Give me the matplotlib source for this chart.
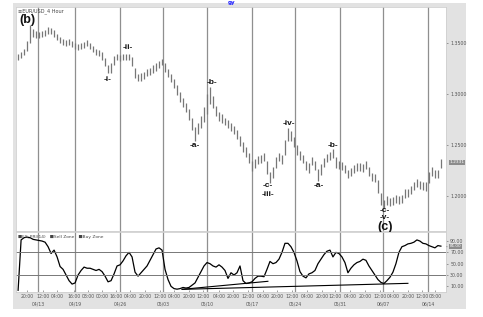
import matplotlib
matplotlib.use("Agg")
import matplotlib.pyplot as plt
import numpy as np
from matplotlib.patches import Rectangle

# EUR/USD 4 hour bars (high / low)
highs = [1.339, 1.341, 1.344, 1.352, 1.368, 1.364, 1.362, 1.361, 1.362, 1.363,
         1.366, 1.365, 1.363, 1.359, 1.356, 1.354, 1.353, 1.354, 1.352, 1.350,
         1.349, 1.350, 1.351, 1.353, 1.350, 1.347, 1.344, 1.343, 1.341, 1.335,
         1.328, 1.330, 1.337, 1.339, 1.338, 1.339, 1.339, 1.339, 1.336, 1.326,
         1.320, 1.321, 1.322, 1.325, 1.326, 1.328, 1.330, 1.332, 1.334, 1.330,
         1.325, 1.320, 1.315, 1.309, 1.302, 1.296, 1.291, 1.285, 1.277, 1.268,
         1.272, 1.278, 1.287, 1.300, 1.307, 1.298, 1.288, 1.282, 1.280, 1.277,
         1.275, 1.272, 1.269, 1.265, 1.259, 1.253, 1.248, 1.242, 1.234, 1.236,
         1.239, 1.240, 1.242, 1.234, 1.224, 1.229, 1.238, 1.242, 1.240, 1.255,
         1.267, 1.264, 1.258, 1.250, 1.244, 1.240, 1.234, 1.232, 1.238, 1.234,
         1.227, 1.231, 1.237, 1.241, 1.243, 1.246, 1.238, 1.234, 1.233, 1.230,
         1.226, 1.228, 1.230, 1.232, 1.232, 1.231, 1.234, 1.229, 1.223, 1.222,
         1.216, 1.203, 1.196, 1.200, 1.198, 1.199, 1.201, 1.200, 1.201, 1.207,
         1.207, 1.210, 1.214, 1.217, 1.215, 1.214, 1.214, 1.224, 1.229, 1.226,
         1.226, 1.236]
lows = [1.333, 1.335, 1.338, 1.342, 1.350, 1.356, 1.355, 1.355, 1.356, 1.357,
        1.359, 1.359, 1.356, 1.353, 1.350, 1.348, 1.347, 1.348, 1.346, 1.344,
        1.343, 1.344, 1.345, 1.347, 1.344, 1.341, 1.338, 1.337, 1.333, 1.327,
        1.321, 1.321, 1.328, 1.333, 1.332, 1.333, 1.333, 1.333, 1.327, 1.316,
        1.313, 1.313, 1.315, 1.318, 1.319, 1.321, 1.323, 1.326, 1.328, 1.322,
        1.317, 1.312, 1.306, 1.299, 1.292, 1.287, 1.282, 1.275, 1.265, 1.254,
        1.261, 1.267, 1.273, 1.280, 1.290, 1.286, 1.278, 1.274, 1.272, 1.270,
        1.267, 1.264, 1.261, 1.256, 1.249, 1.243, 1.238, 1.232, 1.225, 1.228,
        1.231, 1.232, 1.234, 1.222, 1.213, 1.218, 1.228, 1.234, 1.231, 1.240,
        1.254, 1.254, 1.248, 1.240, 1.235, 1.232, 1.226, 1.223, 1.230, 1.226,
        1.215, 1.221, 1.229, 1.233, 1.235, 1.237, 1.228, 1.227, 1.226, 1.223,
        1.218, 1.220, 1.223, 1.225, 1.225, 1.224, 1.227, 1.220, 1.215, 1.214,
        1.203, 1.191, 1.188, 1.191, 1.190, 1.191, 1.193, 1.192, 1.193, 1.198,
        1.199, 1.202, 1.206, 1.209, 1.207, 1.206, 1.205, 1.213, 1.220, 1.218,
        1.218, 1.228]
# FX_PRI(14) oscillator
osc = [3, 92, 96, 97, 96, 93, 92, 91, 90, 88,
       80, 68, 74, 62, 45, 40, 30, 20, 14, 16,
       30, 38, 44, 42, 42, 40, 38, 40, 36, 28,
       18, 20, 32, 46, 48, 55, 64, 70, 62, 35,
       28, 34, 40, 46, 56, 66, 76, 78, 74, 40,
       22, 10, 6, 5, 6, 8, 7, 8, 12, 16,
       26, 36, 46, 52, 50, 46, 44, 48, 44, 38,
       24, 34, 30, 34, 46, 20, 15, 16, 18, 24,
       28, 28, 27, 40, 54, 50, 52, 58, 70, 86,
       86, 80, 70, 55, 36, 28, 25, 32, 34, 38,
       50, 58, 66, 72, 74, 62, 70, 68, 62, 52,
       34, 42, 48, 52, 54, 58, 56, 46, 38, 30,
       22, 17, 15, 20, 26, 35, 50, 70, 80, 82,
       85, 86, 88, 92, 90, 86, 85, 82, 80, 78,
       82, 81]
last_price = 1.2331

# hand drawn trend lines on the oscillator
trend_a_x = [54.7, 83.3]
trend_a_y = [4.7, 18.9]
trend_b_x = [54.7, 130.0]
trend_b_y = [4.7, 15.3]

week_pos = [6.7, 19.0, 34.0, 48.3, 63.0, 78.0, 92.3, 107.3, 121.7, 136.7]
week_labels = ["04/13", "04/19", "04/26", "05/03", "05/10", "05/17", "05/24",
               "05/31", "06/07", "06/14"]
time_pos = [3, 8.3, 13, 18.7, 23.3, 28, 32.7, 37.3, 42.3, 47.3, 52, 57, 61.7,
            67, 71.7, 76.7, 81.7, 86.3, 91.3, 96.3, 101.3, 105.7, 110.7, 115.7,
            120.7, 125, 130, 134.7, 139]
time_labels = ["20:00", "12:00", "04:00", "16:00", "08:00", "00:00", "16:00",
               "04:00", "20:00", "12:00", "04:00", "20:00", "12:00", "04:00",
               "20:00", "12:00", "04:00", "20:00", "12:00", "04:00", "20:00",
               "12:00", "04:00", "20:00", "12:00", "04:00", "20:00", "12:00",
               "08:00"]
price_ticks = [1.20, 1.25, 1.30, 1.35]
osc_ticks = [10, 30, 50, 70, 90]

W, H = 483, 317
fig = plt.figure(figsize=(W / 100, H / 100), dpi=100)
fig.patches.append(Rectangle((13 / W, 1 - 309 / H), 453 / W, 306 / H,
                             transform=fig.transFigure, fc="#e2e2e2", ec="none", zorder=-10))

ax1 = fig.add_axes([16 / W, 1 - 231 / H, 430 / W, 224 / H])
ax2 = fig.add_axes([16 / W, 1 - 292 / H, 430 / W, 60 / H], sharex=ax1)

x = np.arange(len(highs))
ax1.vlines(x, lows, highs, color="#777777", lw=0.9)
ax1.set_ylim(1.1658, 1.3853)
ax1.set_xlim(-0.7, 142.7)

ax2.plot(np.arange(len(osc)), osc, color="black", lw=0.9)
ax2.plot(trend_a_x, trend_a_y, color="black", lw=0.8)
ax2.plot(trend_b_x, trend_b_y, color="black", lw=0.8)
ax2.axhline(70, color="#777777", lw=0.7)
ax2.axhline(30, color="#777777", lw=0.7)
ax2.set_ylim(0, 106)

for ax in (ax1, ax2):
    ax.set_facecolor("white")
    for p in week_pos:
        ax.axvline(p, color="#8f8f8f", lw=0.9, zorder=0)
    for s in ax.spines.values():
        s.set_color("#d0d0d0")
        s.set_linewidth(0.6)
    ax.yaxis.tick_right()
    ax.tick_params(axis="y", labelsize=3.4, labelcolor="#555555", color="#777777",
                   length=1.5, width=0.5, pad=1.5)

ax1.set_yticks(price_ticks)
ax1.set_yticklabels(["%.4f" % t for t in price_ticks])
ax1.tick_params(axis="x", bottom=False, labelbottom=False)
ax2.set_yticks(osc_ticks)
ax2.set_yticklabels(["%.2f" % t for t in osc_ticks])

ax2.set_xticks(time_pos)
ax2.set_xticklabels(time_labels)
ax2.set_xticks(week_pos, minor=True)
ax2.set_xticklabels(week_labels, minor=True)
ax2.tick_params(axis="x", which="major", labelsize=3.3, labelcolor="#555555",
                length=1.5, width=0.5, color="#777777", pad=1.5, direction="in")
ax2.tick_params(axis="x", which="minor", labelsize=3.3, labelcolor="#555555",
                length=0, pad=7)

box = dict(boxstyle="square,pad=0.15", fc="#8c8c8c", ec="none")
ax1.text(1.008, last_price, "%.4f" % last_price, transform=ax1.get_yaxis_transform(),
         fontsize=3.2, color="white", va="center", ha="left", bbox=box)
ax2.text(1.008, osc[-1], "%.2f" % osc[-1], transform=ax2.get_yaxis_transform(),
         fontsize=3.0, color="white", va="center", ha="left", bbox=box)

# wave labels
waves = [("(b)", 3, 1.3726, 9), ("-i-", 30, 1.3138, 6), ("-ii-", 36.7, 1.3452, 6),
         ("-a-", 59, 1.2491, 6), ("-b-", 64.7, 1.3118, 6), ("-c-", 83.3, 1.2099, 6),
         ("-iii-", 83.3, 1.2011, 6), ("-iv-", 90.3, 1.2707, 6), ("-a-", 100.3, 1.2099, 6),
         ("-b-", 105, 1.2491, 6), ("-c-", 122.3, 1.1854, 6), ("-v-", 122.3, 1.1786, 6),
         ("(c)", 122.3, 1.1697, 9)]
for txt, wx, wy, fs in waves:
    ax1.text(wx, wy, txt, fontsize=fs, fontweight="bold", ha="center", va="center",
             family="Liberation Sans", color="#111111")

ax1.text(0.005, 0.995, "≡EUR/USD_4 Hour", transform=ax1.transAxes, fontsize=3.6,
         color="#444444", va="top", ha="left")
ax2.text(0.005, 0.95, "■FX_PRI(14)   ■Sell Zone   ■Buy Zone", transform=ax2.transAxes,
         fontsize=3.2, color="#444444", va="top", ha="left")
fig.text(232 / W, 0.999, "gy", fontsize=4, color="#1a1aff", ha="center", va="top",
         fontweight="bold")

fig.savefig("out.png", dpi=100)
